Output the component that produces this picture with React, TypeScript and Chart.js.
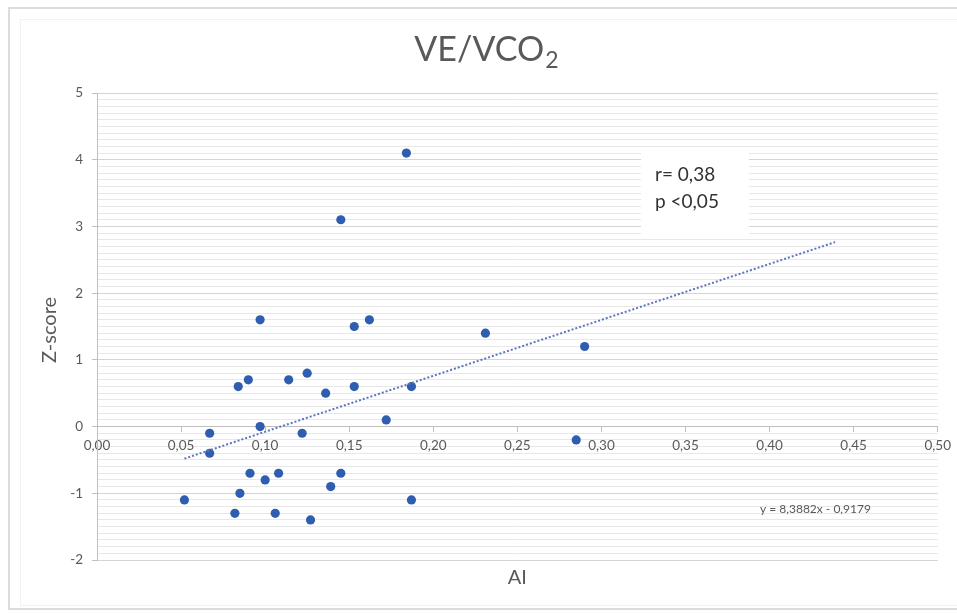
import React, { useEffect, useRef } from "react";
import { Chart, registerables } from "chart.js";

Chart.register(...registerables);

// Scatter points (AI, Z-score)
const aiValues = [
  0.052, 0.067, 0.067, 0.082, 0.085, 0.084, 0.09, 0.091, 0.097, 0.097, 0.1,
  0.106, 0.108, 0.114, 0.122, 0.125, 0.127, 0.136, 0.139, 0.145, 0.145, 0.153,
  0.153, 0.162, 0.172, 0.184, 0.187, 0.187, 0.231, 0.285, 0.29,
];
const zScores = [
  -1.1, -0.1, -0.4, -1.3, -1.0, 0.6, 0.7, -0.7, 0.0, 1.6, -0.8,
  -1.3, -0.7, 0.7, -0.1, 0.8, -1.4, 0.5, -0.9, 3.1, -0.7, 1.5,
  0.6, 1.6, 0.1, 4.1, 0.6, -1.1, 1.4, -0.2, 1.2,
];
// Trend line endpoints
const trendX = [0.052, 0.439];
const trendY = [-0.48, 2.765];

const xTicks = [0, 0.05, 0.1, 0.15, 0.2, 0.25, 0.3, 0.35, 0.4, 0.45, 0.5];
const yMin = -2;
const yMax = 5;

const titleMain = "VE/VCO";
const titleSub = "2";
const xTitle = "AI";
const yTitle = "Z-score";
const statLines = ["r= 0,38", "p <0,05"];
const equation = "y = 8,3882x - 0,9179";

const FONT = "Lato, 'Open Sans', sans-serif";

const overlay = {
  id: "overlay",
  beforeDraw(chart: any) {
    const ctx = chart.ctx;
    ctx.save();
    ctx.fillStyle = "#ffffff";
    ctx.fillRect(0, 0, chart.width, chart.height);
    ctx.strokeStyle = "#dcdcdc";
    ctx.lineWidth = 2;
    ctx.strokeRect(9, 8, 960, 601);
    ctx.strokeStyle = "#f2f2f2";
    ctx.lineWidth = 1;
    ctx.strokeRect(20.5, 19.5, 950, 586);
    ctx.restore();
  },
  afterDraw(chart: any) {
    const ctx = chart.ctx;
    const ca = chart.chartArea;
    ctx.save();
    // Title
    ctx.fillStyle = "#595959";
    ctx.textBaseline = "alphabetic";
    ctx.font = `34px ${FONT}`;
    const w1 = ctx.measureText(titleMain).width;
    ctx.font = `23px ${FONT}`;
    const w2 = ctx.measureText(titleSub).width;
    const cx = 486;
    const start = cx - (w1 + w2) / 2;
    ctx.font = `34px ${FONT}`;
    ctx.textAlign = "left";
    ctx.fillText(titleMain, start, 61);
    ctx.font = `23px ${FONT}`;
    ctx.fillText(titleSub, start + w1 + 1, 68);

    // X title
    ctx.font = `20px ${FONT}`;
    ctx.textAlign = "center";
    ctx.textBaseline = "middle";
    ctx.fillText(xTitle, (ca.left + ca.right) / 2, 578);

    // Y title
    ctx.save();
    ctx.translate(50, 330);
    ctx.rotate(-Math.PI / 2);
    ctx.fillText(yTitle, 0, 0);
    ctx.restore();

    // Stats box
    ctx.fillStyle = "#ffffff";
    ctx.fillRect(641, 150, 108, 86);
    ctx.fillStyle = "#333333";
    ctx.font = `19px ${FONT}`;
    ctx.textAlign = "left";
    ctx.textBaseline = "alphabetic";
    ctx.fillText(statLines[0], 655, 181);
    ctx.fillText(statLines[1], 655, 208);

    // Equation
    ctx.fillStyle = "#595959";
    ctx.font = `12px ${FONT}`;
    ctx.textBaseline = "middle";
    ctx.fillText(equation, 760, 509);
    ctx.restore();
  },
};

const isInt = (v: number) => Math.abs(v - Math.round(v)) < 1e-6;

export default function App() {
  const ref = useRef<HTMLCanvasElement | null>(null);
  useEffect(() => {
    if (!ref.current) return;
    const chart = new Chart(ref.current, {
      type: "scatter",
      data: {
        datasets: [
          {
            type: "line",
            data: trendX.map((x, i) => ({ x, y: trendY[i] })),
            borderColor: "#5b76bd",
            borderWidth: 2,
            borderDash: [2, 2],
            pointRadius: 0,
            fill: false,
          } as any,
          {
            data: aiValues.map((x, i) => ({ x, y: zScores[i] })),
            backgroundColor: "#2f5db0",
            borderColor: "#2f5db0",
            pointRadius: 4.6,
            borderWidth: 0,
          },
        ],
      },
      plugins: [overlay],
      options: {
        responsive: false,
        animation: false,
        layout: { padding: { top: 93, bottom: 53, left: 0, right: 19 } },
        plugins: {
          legend: { display: false },
          tooltip: { enabled: false },
          title: { display: false },
        },
        scales: {
          x: {
            type: "linear",
            min: 0,
            max: 0.5,
            position: { y: 0 } as any,
            afterBuildTicks: (scale: any) => {
              scale.ticks = xTicks.map((v) => ({ value: v }));
            },
            ticks: {
              callback: (v: any) => Number(v).toFixed(2).replace(".", ","),
              color: "#595959",
              font: { family: FONT, size: 13.5 },
              padding: 6,
              maxRotation: 0,
              autoSkip: false,
            },
            grid: {
              drawOnChartArea: false,
              drawTicks: true,
              tickLength: 5,
              color: "#bfbfbf",
            },
            border: { display: true, color: "#bfbfbf", width: 1 },
          },
          y: {
            type: "linear",
            min: yMin,
            max: yMax,
            afterFit: (scale: any) => {
              scale.width = 97;
            },
            ticks: {
              stepSize: 0.1,
              autoSkip: false,
              callback: (v: any) => (isInt(Number(v)) ? String(Math.round(Number(v))) : ""),
              color: "#595959",
              font: { family: FONT, size: 13.5 },
              padding: 9,
            },
            grid: {
              color: (c: any) => (isInt(c.tick.value) ? "#d4d4d4" : "#e8e8e8"),
              tickColor: (c: any) => (isInt(c.tick.value) ? "#bfbfbf" : "rgba(0,0,0,0)"),
              tickLength: 5,
              lineWidth: 1,
            },
            border: { display: true, color: "#bfbfbf", width: 1 },
          },
        },
      },
    });
    return () => chart.destroy();
  }, []);
  return (
    <div style={{ position: "absolute", left: 0, top: 0, width: 957, height: 613 }}>
      <canvas ref={ref} width={957} height={613} />
    </div>
  );
}
